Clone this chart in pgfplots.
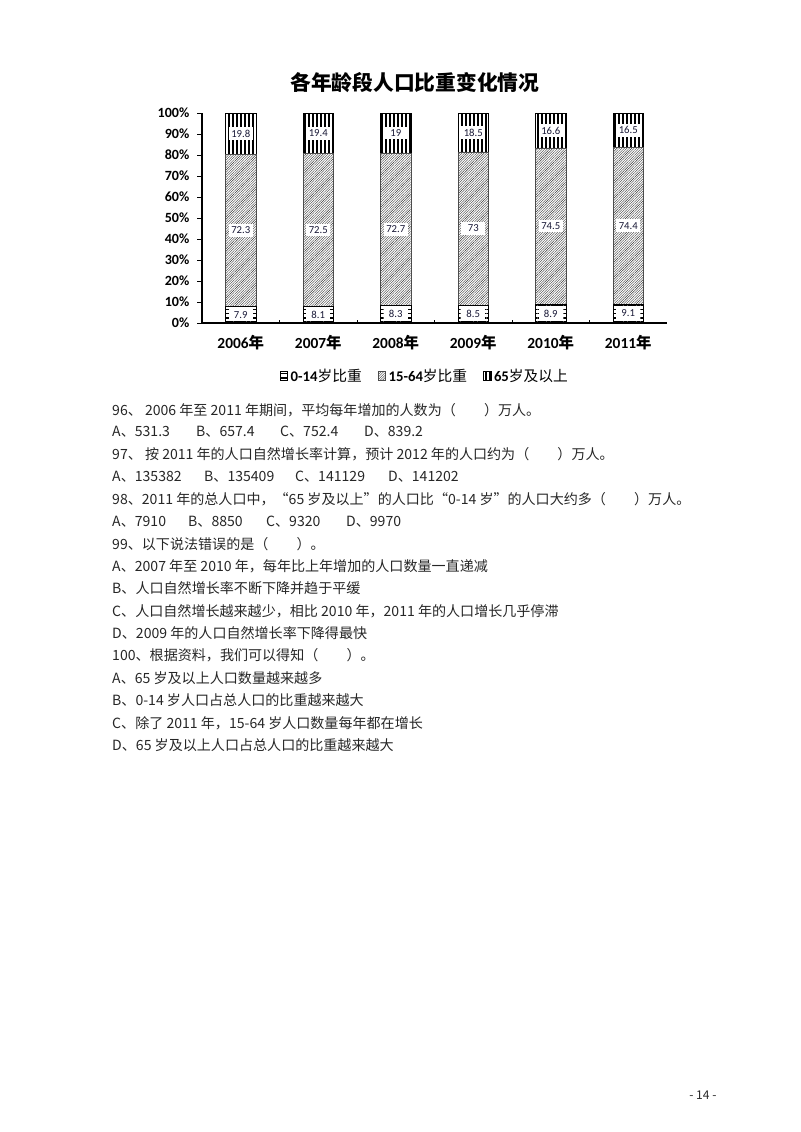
\documentclass[border=0pt]{standalone}
\usepackage{fontspec}
\usepackage{pgfplots}
\pgfplotsset{compat=1.18}
\usetikzlibrary{patterns.meta}
\setmainfont{Liberation Serif}
\newfontfamily\cjk{Noto Sans CJK SC}
\newfontfamily\carlito{Carlito}
\definecolor{lbl}{RGB}{25,25,55}
\newcommand\nian{{\cjk\bfseries 年}}

\begin{document}
\begin{tikzpicture}
\path[use as bounding box] (0,0) rectangle (21cm,-29.715cm);

% stacked bars
\begin{axis}[
  at={(5.3025cm,-8.479cm)}, anchor=south west,
  width=12.206cm, height=5.5125cm, scale only axis,
  ybar stacked, bar width=0.79cm,
  xmin=-0.5, xmax=5.5, ymin=0, ymax=100,
  axis x line=bottom, axis y line=left,
  axis line style={-, line width=0.8pt, black},
  xtick={0,...,5},
  xticklabels={2006\nian,2007\nian,2008\nian,2009\nian,2010\nian,2011\nian},
  minor xtick={0.5,1.5,2.5,3.5,4.5},
  major x tick style={draw=none},
  minor x tick style={black, line width=0.5pt},
  minor tick length=0.08cm,
  xtick align=inside,
  ytick={0,10,...,100},
  yticklabels={0\%,10\%,20\%,30\%,40\%,50\%,60\%,70\%,80\%,90\%,100\%},
  ytick align=outside,
  major tick length=0.13cm,
  y tick style={black, line width=0.6pt},
  xticklabel style={font=\carlito\bfseries\fontsize{11.5}{12}\selectfont, yshift=-0.2cm},
  yticklabel style={font=\carlito\bfseries\fontsize{10.5}{11}\selectfont, xshift=-0.08cm},
  legend style={at={(0.48,-0.252)}, anchor=center, draw=none,
    legend columns=3, font=\carlito\bfseries\fontsize{11}{12}\selectfont,
    /tikz/every even column/.append style={column sep=0.35cm}},
  legend image code/.code={\draw[#1] (0cm,-0.12cm) rectangle (0.2cm,0.12cm);},
]
\addplot[draw=black, line width=0.4pt,
  pattern={Lines[angle=0,distance=3.2pt,line width=1.2pt]}]
  coordinates {(0,7.9) (1,8.1) (2,8.3) (3,8.5) (4,8.9) (5,9.1)};
\addlegendentry{0-14{\cjk\mdseries 岁比重}}
\addplot[draw=black!70, line width=0.4pt, pattern color=black!80,
  pattern={Lines[angle=45,distance=1.3pt,line width=0.3pt]}]
  coordinates {(0,72.3) (1,72.5) (2,72.7) (3,73) (4,74.5) (5,74.4)};
\addlegendentry{15-64{\cjk\mdseries 岁比重}}
\addplot[draw=black, line width=0.4pt,
  pattern={Lines[angle=90,distance=3pt,line width=1.4pt]}]
  coordinates {(0,19.8) (1,19.4) (2,19) (3,18.5) (4,16.6) (5,16.5)};
\addlegendentry{65{\cjk\mdseries 岁及以上}}
\end{axis}

% value labels in the middle of each segment
\begin{axis}[
  at={(5.3025cm,-8.479cm)}, anchor=south west,
  width=12.206cm, height=5.5125cm, scale only axis,
  xmin=-0.5, xmax=5.5, ymin=0, ymax=100, hide axis,
  nodes near coords, point meta=explicit symbolic,
  every node near coord/.append style={anchor=center, fill=white,
    inner sep=0pt, minimum width=0.62cm, minimum height=0.33cm,
    font=\carlito\fontsize{8}{8}\selectfont, text=lbl},
]
\addplot[draw=none, mark=none] coordinates {
  (0,3.95)[7.9] (1,4.05)[8.1] (2,4.15)[8.3] (3,4.25)[8.5] (4,4.45)[8.9] (5,4.55)[9.1]};
\addplot[draw=none, mark=none] coordinates {
  (0,44.05)[72.3] (1,44.35)[72.5] (2,44.65)[72.7] (3,45)[73] (4,46.15)[74.5] (5,46.3)[74.4]};
\addplot[draw=none, mark=none] coordinates {
  (0,90.15)[19.8] (1,90.3)[19.4] (2,90.5)[19] (3,90.75)[18.5] (4,91.7)[16.6] (5,91.75)[16.5]};
\end{axis}

\begin{scope}[x=0.02625cm, y=-0.02625cm,
  every node/.style={anchor=west, inner sep=0pt, text=black!85,
    font=\cjk\fontsize{10.5}{12}\selectfont}]
\node[anchor=center, text=black, font=\cjk\bfseries\fontsize{15.5}{16}\selectfont]
  at (415,82.7) {各年龄段人口比重变化情况};
\node at (112,410) {96、 2006 年至 2011 年期间，平均每年增加的人数为（\hspace{2em}）万人。};
\node at (112,432) {A、531.3}; \node at (196,432) {B、657.4};
\node at (280,432) {C、752.4}; \node at (364,432) {D、839.2};
\node at (112,454) {97、 按 2011 年的人口自然增长率计算，预计 2012 年的人口约为（\hspace{2em}）万人。};
\node at (112,477) {A、135382}; \node at (204,477) {B、135409};
\node at (295,477) {C、141129}; \node at (388,477) {D、141202};
\node at (112,499) {98、2011 年的总人口中，“65 岁及以上”的人口比“0-14 岁”的人口大约多（\hspace{2em}）万人。};
\node at (112,521.5) {A、7910}; \node at (188,521.5) {B、8850};
\node at (266,521.5) {C、9320}; \node at (346,521.5) {D、9970};
\node at (112,544) {99、以下说法错误的是（\hspace{2em}）。};
\node at (112,566) {A、2007 年至 2010 年，每年比上年增加的人口数量一直递减};
\node at (112,588.5) {B、人口自然增长率不断下降并趋于平缓};
\node at (112,611) {C、人口自然增长越来越少，相比 2010 年，2011 年的人口增长几乎停滞};
\node at (112,633) {D、2009 年的人口自然增长率下降得最快};
\node at (112,655) {100、根据资料，我们可以得知（\hspace{2em}）。};
\node at (112,678) {A、65 岁及以上人口数量越来越多};
\node at (112,700.5) {B、0-14 岁人口占总人口的比重越来越大};
\node at (112,723) {C、除了 2011 年，15-64 岁人口数量每年都在增长};
\node at (112,745.5) {D、65 岁及以上人口占总人口的比重越来越大};
\node[anchor=center, font=\cjk\fontsize{9}{10}\selectfont] at (703,1095) {- 14 -};
\end{scope}
\end{tikzpicture}
\end{document}
